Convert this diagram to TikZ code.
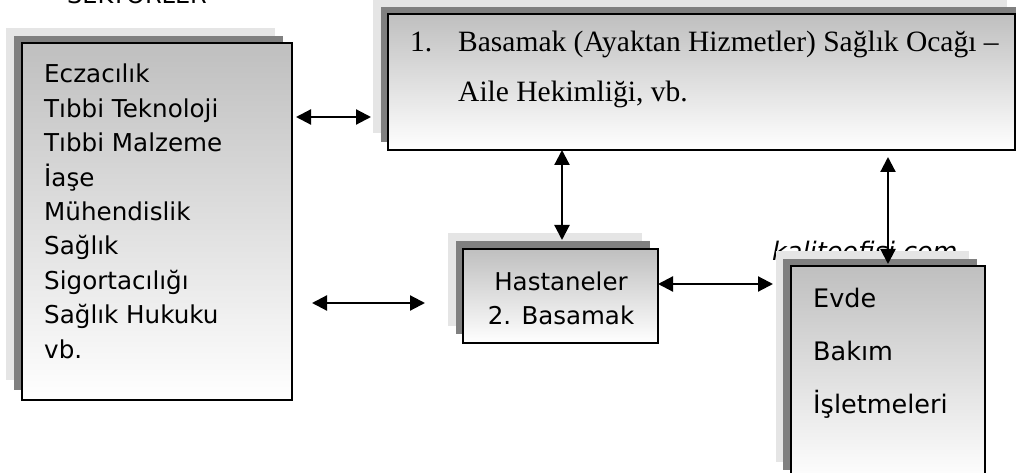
\documentclass[tikz,border=0pt]{standalone}
\usepackage{fontspec}
\setmainfont{Liberation Serif}
\newfontfamily\boxsans{DejaVu Sans}
\usetikzlibrary{arrows.meta,calc}
\begin{document}
\begin{tikzpicture}[x=1pt,y=-1pt,
  shadelight/.style={fill=black!10},
  shadedark/.style={fill=black!50},
  panel/.style={draw=black, line width=2pt, top color=black!25, bottom color=white,
    inner sep=0pt, outer sep=0pt, anchor=north west},
  link/.style={line width=2.2pt,
    {Triangle[length=15pt,width=15pt]}-{Triangle[length=15pt,width=15pt]}},
  sanstext/.style={font=\boxsans\fontsize{25.5}{34.4}\selectfont, inner sep=0pt, align=left},
  serftext/.style={font=\fontsize{29.5}{49.5}\selectfont, inner sep=0pt, align=left}
]
\useasboundingbox (0,0) rectangle (1018,473);

% heading, cut by the top edge
\node[sanstext, font=\boxsans\fontsize{24}{28}\selectfont, anchor=base] (title) at (137,4) {SEKTÖRLER};

% sectors panel (multi-line texts are placed by the baseline of their last line)
\fill[shadelight] (6,28) rectangle (275,380);
\fill[shadedark] (14,36) rectangle (283,390);
\node[panel, minimum width=270pt, minimum height=357pt] (sector) at (22,43) {};
\node[sanstext, font=\boxsans\fontsize{24.6}{34.4}\selectfont, anchor=base west] (sectortext) at (44,358)
  {Eczacılık\\Tıbbi Teknoloji\\Tıbbi Malzeme\\İaşe\\Mühendislik\\Sağlık\\Sigortacılığı\\Sağlık Hukuku\\vb.};

% primary care panel
\fill[shadelight] (373,-2) rectangle (1007,133);
\fill[shadedark] (381,7) rectangle (1016,142);
\node[panel, minimum width=627pt, minimum height=136pt] (primary) at (388,14) {};
\node[serftext, anchor=base west] (primnum) at (410,52) {1.};
\node[serftext, anchor=base west] (primtext) at (458,101.5)
  {Basamak (Ayaktan Hizmetler) Sağlık Ocağı –\\Aile Hekimliği, vb.};

% hospitals panel
\fill[shadelight] (448,233) rectangle (642,326);
\fill[shadedark] (456,241) rectangle (650,334);
\node[panel, minimum width=195pt, minimum height=94pt] (hosp) at (463,249) {};
\node[sanstext, font=\boxsans\fontsize{24.5}{34}\selectfont, anchor=base, align=center] (hosptext) at (561,324) {Hastaneler\\2. Basamak};

% watermark, partly hidden by the home care panel
\node[font=\boxsans\itshape\fontsize{25.5}{30}\selectfont, inner sep=0pt, anchor=base west] (mark) at (772,261) {kaliteofisi.com};

% home care panel
\fill[shadelight] (776,251) rectangle (969,462);
\fill[shadedark] (783,259) rectangle (977,470);
\node[panel, minimum width=194pt, minimum height=216pt] (home) at (791,266) {};
\node[sanstext, font=\boxsans\fontsize{25.5}{53}\selectfont, anchor=base west] (hometext) at (813,413)
  {Evde\\Bakım\\İşletmeleri};

% rows of the horizontal connectors
\coordinate (row1) at (0,117);
\coordinate (row2) at (0,284);
\coordinate (row3) at (0,303);

\draw[link] ($(sector.east |- row1)+(4,0)$) -- ($(primary.west |- row1)+(-17,0)$);
\draw[link] ($(sector.east |- row3)+(20,0)$) -- ($(hosp.west |- row3)+(-38,0)$);
\draw[link] (hosp.east |- row2) -- ($(home.west |- row2)+(-18,0)$);
\draw[link] ($(primary.south -| hosp.north)+(1.5,0)$) -- ($(hosp.north)+(1.5,-9)$);
\draw[link] ($(primary.south -| home.north)+(0,7)$) -- ($(home.north)+(0,-2)$);
\end{tikzpicture}
\end{document}
